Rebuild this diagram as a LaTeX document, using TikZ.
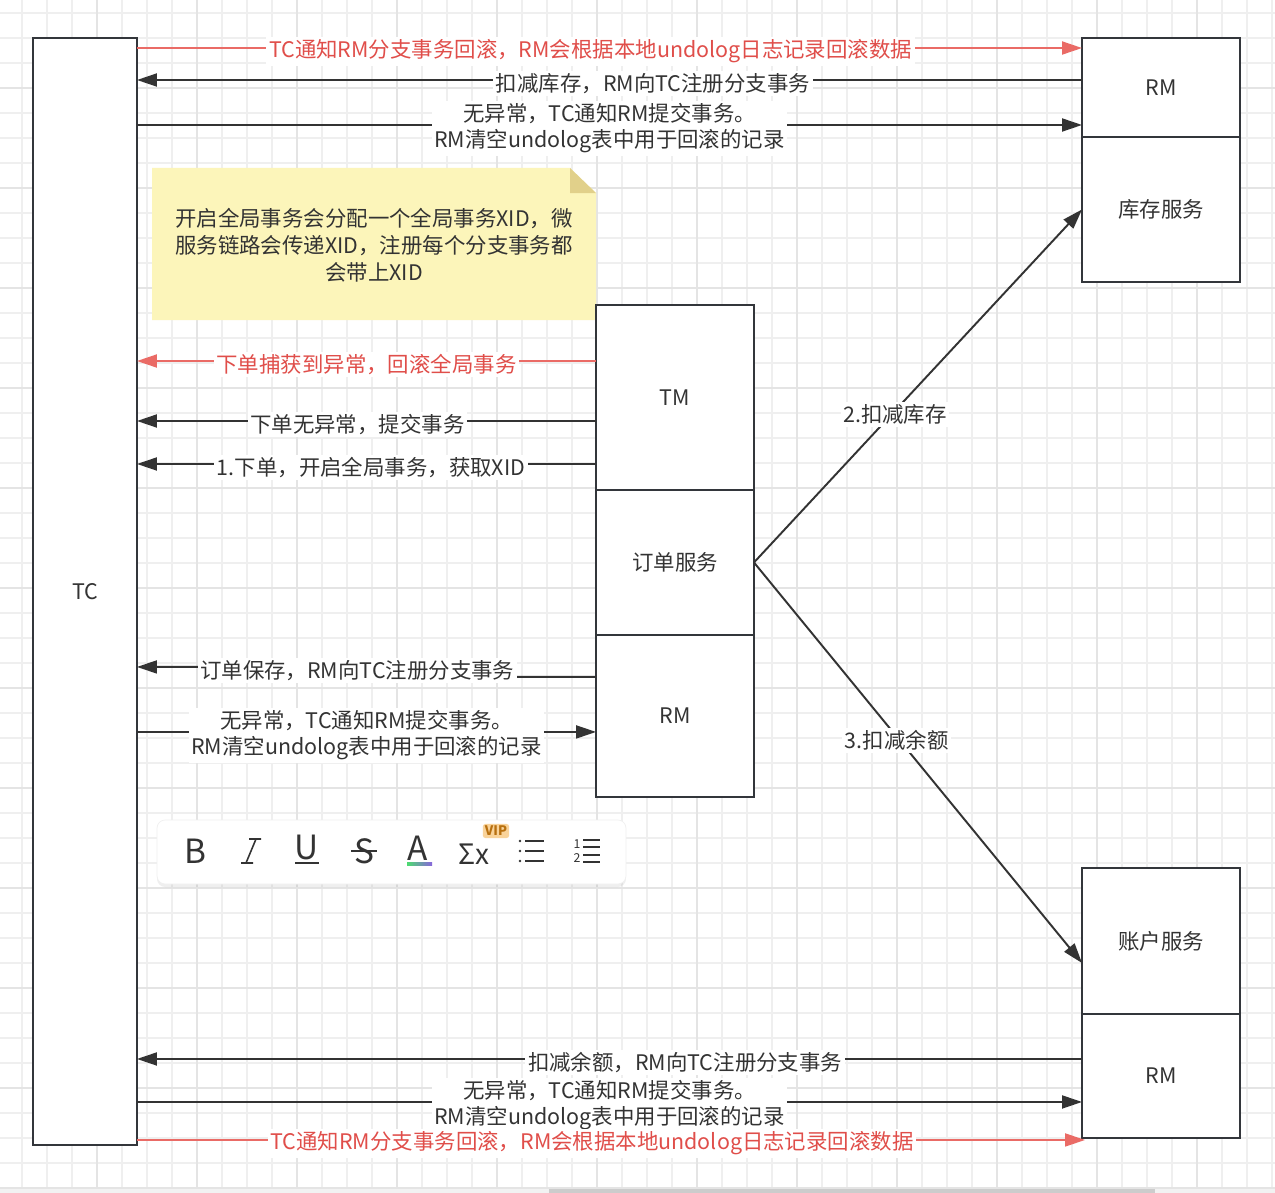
\documentclass[tikz,border=0pt]{standalone}
\usepackage{fontspec}
\setmainfont{Noto Sans CJK SC}
\usetikzlibrary{positioning,arrows.meta,calc,shadows}
\definecolor{ink}{HTML}{333333}
\definecolor{boxline}{HTML}{33363B}
\definecolor{alarm}{HTML}{EA6B66}
\definecolor{alarmtxt}{HTML}{E04E4A}
\definecolor{notefill}{HTML}{FCF5BA}
\definecolor{notefold}{HTML}{E1D08A}
\definecolor{gridlo}{HTML}{EFEFEF}
\definecolor{gridhi}{HTML}{E4E4E4}
\definecolor{vipfill}{HTML}{F9D39A}
\definecolor{viptxt}{HTML}{B8700F}

\begin{document}
\begin{tikzpicture}[x=0.02cm,y=-0.02cm,
  font=\fontsize{12.2pt}{14.8pt}\selectfont,text=ink,
  bx/.style={draw=boxline,line width=1.2pt,fill=white,outer sep=0pt,inner sep=0pt,minimum width=3.16cm},
  ar/.style={-{Triangle[length=4mm,width=2.6mm]},line width=1.1pt,draw=ink},
  rar/.style={ar,draw=alarm},
  lb/.style={fill=white,inner sep=1.5pt,align=center,yshift=-0.07cm},
  rlb/.style={lb,text=alarmtxt},
  tool/.style={font=\fontsize{19pt}{20pt}\selectfont,inner sep=0pt},
  toolln/.style={draw=ink,line width=0.9pt}]
  \useasboundingbox (0,0) rectangle (1275,1193);
  % grid paper
  \fill[white] (0,0) rectangle (1275,1193);
  \foreach \gx in {22,47,...,1272} \draw[gridlo,line width=0.7pt] (\gx,0) -- (\gx,1193);
  \foreach \gy in {13,38,...,1188} \draw[gridlo,line width=0.7pt] (0,\gy) -- (1275,\gy);
  \foreach \gx in {97,197,...,1197} \draw[gridhi,line width=0.8pt] (\gx,0) -- (\gx,1193);
  \foreach \gy in {88,188,...,1188} \draw[gridhi,line width=0.8pt] (0,\gy) -- (1275,\gy);
  \fill[gray!10] (0,1189) rectangle (1275,1193);
  \fill[gray!40] (549,1189) rectangle (1155,1193);

  % note
  \fill[notefill] (152,168) -- (570,168) -- (596,193) -- (596,320) -- (152,320) -- cycle;
  \fill[notefold] (570,168) -- (570,193) -- (596,193) -- cycle;
  \node[align=center,font=\fontsize{12.2pt}{15.3pt}\selectfont] (note) at (374,245)
    {开启全局事务会分配一个全局事务XID，微\\服务链路会传递XID，注册每个分支事务都\\会带上XID};

  % boxes
  \node[bx,minimum width=2.08cm,minimum height=22.14cm] (tc) at (85,591.5) {TC};
  \node[bx,minimum height=1.98cm] (rmstock) at (1161,87.5) {RM};
  \node[bx,minimum height=2.9cm,below=0pt of rmstock] (stock) {库存服务};
  \node[bx,minimum height=3.7cm] (tm) at (675,397.5) {TM};
  \node[bx,minimum height=2.9cm,below=0pt of tm] (order) {订单服务};
  \node[bx,minimum height=3.24cm,below=0pt of order] (rmorder) {RM};
  \node[bx,minimum height=2.92cm] (acct) at (1161,941) {账户服务};
  \node[bx,minimum height=2.48cm,below=0pt of acct] (rmacct) {RM};

  % stock service <-> TC
  \draw[rar] ([yshift=-0.2cm]rmstock.north west -| tc.east) -- node[rlb,pos=0.48]{TC通知RM分支事务回滚，RM会根据本地undolog日志记录回滚数据} ([yshift=-0.2cm]rmstock.north west);
  \draw[ar] ([yshift=-0.84cm]rmstock.north west) -- node[lb,pos=0.454]{扣减库存，RM向TC注册分支事务} ([yshift=-0.84cm]rmstock.north west -| tc.east);
  \draw[ar] ([yshift=-1.74cm]rmstock.north west -| tc.east) -- node[lb]{无异常，TC通知RM提交事务。\\RM清空undolog表中用于回滚的记录} ([yshift=-1.74cm]rmstock.north west);

  % order service <-> TC
  \draw[rar] ([yshift=-1.12cm]tm.north west) -- node[rlb]{下单捕获到异常，回滚全局事务} ([yshift=-1.12cm]tm.north west -| tc.east);
  \draw[ar] ([yshift=-2.32cm]tm.north west) -- node[lb,pos=0.52]{下单无异常，提交事务} ([yshift=-2.32cm]tm.north west -| tc.east);
  \draw[ar] ([yshift=-3.18cm]tm.north west) -- node[lb,pos=0.49]{1.下单，开启全局事务，获取XID} ([yshift=-3.18cm]tm.north west -| tc.east);
  \draw[ar] ([yshift=-0.84cm]rmorder.north west) -- ++(-1.96cm,0) -- ++(0,0.2cm) -- node[lb,pos=0.39]{订单保存，RM向TC注册分支事务} ([yshift=-0.64cm]rmorder.north west -| tc.east);
  \draw[ar] ([yshift=-1.94cm]rmorder.north west -| tc.east) -- node[lb]{无异常，TC通知RM提交事务。\\RM清空undolog表中用于回滚的记录} ([yshift=-1.94cm]rmorder.north west);

  % order service -> other services
  \draw[ar] (order.east) -- node[lb,pos=0.43]{2.扣减库存} (stock.west);
  \draw[ar] (order.east) -- node[lb,pos=0.435]{3.扣减余额} ([yshift=-0.44cm]acct.west);

  % account service <-> TC
  \draw[ar] ([yshift=-0.9cm]rmacct.north west) -- node[lb,pos=0.42]{扣减余额，RM向TC注册分支事务} ([yshift=-0.9cm]rmacct.north west -| tc.east);
  \draw[ar] ([yshift=-1.76cm]rmacct.north west -| tc.east) -- node[lb]{无异常，TC通知RM提交事务。\\RM清空undolog表中用于回滚的记录} ([yshift=-1.76cm]rmacct.north west);
  \draw[rar] ([yshift=-0.04cm]rmacct.south west -| tc.east) -- node[rlb,pos=0.48]{TC通知RM分支事务回滚，RM会根据本地undolog日志记录回滚数据} ([xshift=0.06cm,yshift=-0.04cm]rmacct.south west);

  % text toolbar
  \node[draw=gray!12,fill=white,rounded corners=0.16cm,minimum width=9.38cm,minimum height=1.28cm,
    drop shadow={opacity=0.12,shadow xshift=0pt,shadow yshift=-0.06cm}] (bar) at (391.5,852) {};
  \node[tool] (bold) at (195,851) {B};
  \draw[toolln] (249,839) -- (261,839) (256,839) -- (246,863) (241,863) -- (253,863);
  \node[tool] (under) at (307,847) {U};
  \draw[toolln] (295,863) -- (319,863);
  \node[tool] (strike) at (364,851) {S};
  \draw[toolln] (351,851) -- (377,851);
  \node[tool] (color) at (418,848) {A};
  \shade[left color=green!60!teal!70,right color=blue!55!violet!60] (407,862) rectangle (432,865);
  \node[tool,font=\fontsize{16pt}{18pt}\selectfont] (sum) at (474,854) {Σx};
  \node[fill=vipfill,rounded corners=1.5pt,inner sep=1.2pt,text=viptxt,font=\fontsize{7.5pt}{8pt}\selectfont\bfseries\itshape] (vip) at (496,831) {VIP};
  \foreach \ly in {841,851,861} {
    \fill[ink] (520,\ly) circle (1.3);
    \draw[toolln] (525,\ly) -- (544,\ly);
  }
  \node[inner sep=0pt,font=\fontsize{7pt}{8pt}\selectfont] (one) at (577,844) {1};
  \node[inner sep=0pt,font=\fontsize{7pt}{8pt}\selectfont] (two) at (577,858) {2};
  \foreach \ly in {840,847,855,862} \draw[toolln] (583,\ly) -- (600,\ly);
\end{tikzpicture}
\end{document}
